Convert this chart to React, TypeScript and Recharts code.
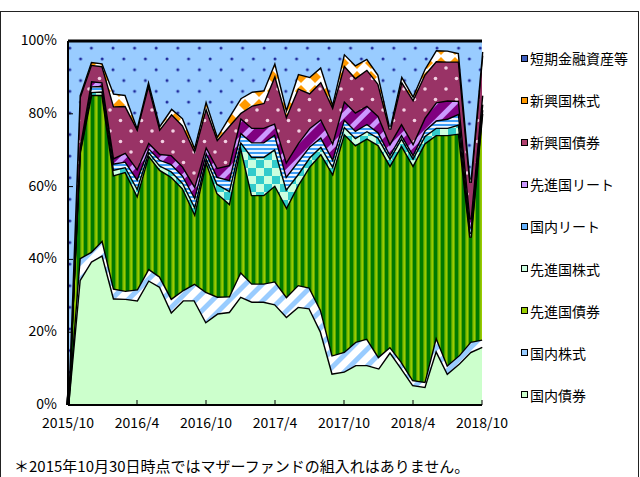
import React from 'react';
import { AreaChart, Area, XAxis, YAxis, Legend } from 'recharts';

const FONT = '"Noto Sans CJK JP", "Noto Sans", sans-serif';

const months = [
  '2015/10', '2015/11', '2015/12', '2016/1', '2016/2', '2016/3', '2016/4', '2016/5', '2016/6', '2016/7',
  '2016/8', '2016/9', '2016/10', '2016/11', '2016/12', '2017/1', '2017/2', '2017/3', '2017/4', '2017/5',
  '2017/6', '2017/7', '2017/8', '2017/9', '2017/10', '2017/11', '2017/12', '2018/1', '2018/2', '2018/3',
  '2018/4', '2018/5', '2018/6', '2018/7', '2018/8', '2018/9', '2018/10',
];

const jpBond = [0, 34.3, 39.4, 41.2, 29.3, 29.2, 28.8, 34.3, 32.5, 25.6, 28.8, 28.8, 22.9, 25.2, 25.6, 29.8, 28.4, 28.4, 27.7, 24.3, 27.0, 26.6, 20.1, 8.7, 9.2, 11.0, 11.0, 10.1, 14.6, 10.1, 5.5, 5.0, 15.1, 8.7, 11.4, 14.6, 16.0];
const jpStock = [0, 6.0, 2.7, 4.1, 2.7, 2.2, 3.0, 3.2, 2.8, 3.7, 2.8, 4.6, 8.2, 4.6, 4.3, 6.8, 5.0, 5.0, 6.3, 5.5, 6.0, 5.7, 6.0, 5.0, 5.4, 6.4, 7.3, 3.2, 1.4, 1.8, 1.4, 1.4, 3.7, 2.3, 2.3, 2.8, 2.0];
const dvBond = [0, 28.8, 43.1, 39.9, 31.2, 32.7, 25.9, 31.2, 29.3, 33.4, 27.9, 19.3, 36.0, 28.4, 25.5, 34.8, 24.3, 24.3, 26.4, 24.6, 27.5, 33.3, 43.0, 50.0, 60.0, 54.0, 55.0, 58.1, 49.9, 59.5, 59.0, 65.5, 55.4, 63.2, 60.9, 28.6, 62.0];
const dvStock = [0, 0.5, 0.8, 1.0, 1.5, 1.3, 2.0, 1.0, 1.2, 1.5, 1.5, 2.0, 1.0, 2.5, 3.5, 1.0, 10.5, 10.5, 10.0, 5.0, 3.0, 2.5, 2.0, 2.0, 2.0, 2.0, 2.0, 2.0, 2.0, 2.0, 2.0, 2.0, 2.0, 2.0, 2.5, 1.0, 1.0];
const jpReit = [0, 0.5, 1.6, 1.5, 1.7, 1.5, 2.5, 1.0, 1.6, 2.0, 2.0, 2.5, 1.5, 2.0, 3.0, 2.5, 4.0, 4.0, 4.0, 3.5, 3.5, 3.0, 2.5, 2.0, 2.0, 2.0, 2.0, 1.5, 1.0, 1.0, 1.0, 1.5, 2.0, 2.5, 3.0, 1.5, 1.5];
const dvReit = [0, 0.5, 1.4, 1.0, 1.5, 2.5, 2.8, 1.5, 1.6, 2.5, 2.5, 3.0, 1.5, 2.5, 4.0, 4.0, 4.0, 4.0, 3.0, 4.0, 5.0, 5.0, 5.0, 4.5, 5.0, 5.0, 5.0, 4.5, 3.0, 3.0, 3.0, 3.5, 5.0, 5.0, 3.5, 2.5, 2.5];
const emBond = [0, 13.9, 4.5, 4.4, 14.2, 12.8, 11.0, 16.1, 6.9, 11.3, 11.3, 9.8, 10.7, 7.8, 10.8, 1.4, 6.1, 6.8, 13.3, 12.6, 15.0, 9.6, 10.3, 9.8, 9.8, 9.5, 9.9, 8.8, 3.8, 11.6, 12.1, 11.9, 11.3, 10.7, 10.8, 10.0, 11.0];
const emStock = [0, 0.5, 0.8, 0.8, 3.5, 3.0, 0.5, 1.0, 1.0, 1.5, 2.0, 1.0, 2.0, 1.0, 2.5, 4.0, 3.8, 3.5, 3.6, 2.0, 4.0, 4.5, 4.0, 1.0, 3.2, 3.5, 3.0, 2.5, 0.8, 1.5, 1.0, 1.5, 3.0, 3.0, 2.3, 1.0, 1.0];
const cash = [100, 15.0, 5.7, 6.1, 14.4, 14.8, 23.5, 10.7, 23.1, 18.5, 21.2, 29.0, 16.2, 26.0, 20.8, 15.7, 13.9, 13.5, 5.7, 18.5, 9.0, 9.8, 7.1, 17.0, 3.4, 6.6, 4.8, 9.3, 23.5, 9.5, 15.0, 7.7, 2.5, 2.6, 3.3, 38.0, 3.0];

const yTicks = [0, 20, 40, 60, 80, 100];

const series = [
  { key: 'jpBond', name: '国内債券', values: jpBond, fill: '#CCFFCC', icon: '#CCFFCC' },
  { key: 'jpStock', name: '国内株式', values: jpStock, fill: 'url(#pJpStock)', icon: '#99CCFF' },
  { key: 'dvBond', name: '先進国債券', values: dvBond, fill: 'url(#pDvBond)', icon: '#99CC00' },
  { key: 'dvStock', name: '先進国株式', values: dvStock, fill: 'url(#pDvStock)', icon: '#CCFFE0' },
  { key: 'jpReit', name: '国内リート', values: jpReit, fill: 'url(#pJpReit)', icon: '#66B3FF' },
  { key: 'dvReit', name: '先進国リート', values: dvReit, fill: 'url(#pDvReit)', icon: '#CC99FF' },
  { key: 'emBond', name: '新興国債券', values: emBond, fill: 'url(#pEmBond)', icon: '#B0406E' },
  { key: 'emStock', name: '新興国株式', values: emStock, fill: 'url(#pEmStock)', icon: '#FF9900' },
  { key: 'cash', name: '短期金融資産等', values: cash, fill: 'url(#pCash)', icon: '#3F5FBF' },
];

const data = months.map((m, i) => {
  const row: Record<string, any> = { month: m };
  series.forEach((s) => {
    row[s.key] = s.values[i];
  });
  return row;
});

const XTick = (props: any) => {
  const { x, y, payload } = props;
  return (
    <g>
      <line x1={x} x2={x} y1={y} y2={y - 5} stroke="#000" strokeWidth={1} />
      <text x={x} y={y + 23} textAnchor="middle" fontSize={14} fill="#000" fontFamily={FONT}>
        {payload.value}
      </text>
    </g>
  );
};

const YTick = (props: any) => {
  const { x, y, payload } = props;
  return (
    <g>
      <line x1={x} x2={x + 5} y1={y} y2={y} stroke="#000" strokeWidth={1} />
      <text x={x - 11} y={y + 4} textAnchor="end" fontSize={14} fill="#000" fontFamily={FONT}>
        {payload.value}%
      </text>
    </g>
  );
};

const renderLegend = () => {
  const items = series.slice().reverse();
  return (
    <div style={{ fontFamily: FONT, fontSize: 14, color: '#000' }}>
      {items.map((s) => (
        <div key={s.key} style={{ height: 42.1, display: 'flex', alignItems: 'center' }}>
          <span
            style={{
              display: 'inline-block',
              width: 5,
              height: 5,
              border: '1.5px solid #000',
              background: s.icon,
              marginRight: 2,
            }}
          />
          <span style={{ whiteSpace: 'nowrap' }}>{s.name}</span>
        </div>
      ))}
    </div>
  );
};

export default function App() {
  return (
    <div style={{ position: 'absolute', left: 0, top: 0, width: 640, height: 477, overflow: 'hidden', background: '#fff' }}>
      <div style={{ position: 'absolute', left: 0, top: 11, width: 637, height: 480, border: '1.5px solid #222' }} />
      <AreaChart
        width={640}
        height={477}
        data={data}
        margin={{ top: 41, right: 158, bottom: 42, left: 8 }}
        style={{ position: 'absolute', left: 0, top: 0 }}
      >
        <defs>
          <pattern id="pJpStock" width="12" height="12" patternUnits="userSpaceOnUse" patternTransform="rotate(45)">
            <rect width="12" height="12" fill="#FFFFFF" />
            <rect width="5" height="12" fill="#99CCFF" />
          </pattern>
          <pattern id="pDvBond" width="7" height="10" patternUnits="userSpaceOnUse">
            <rect width="7" height="10" fill="#99CC00" />
            <rect x="0" width="3.5" height="10" fill="#007A00" />
            <rect x="3.5" width="0.8" height="10" fill="#4FA000" />
            <rect x="6.2" width="0.8" height="10" fill="#4FA000" />
          </pattern>
          <pattern id="pDvStock" width="16" height="16" patternUnits="userSpaceOnUse">
            <rect width="16" height="16" fill="#CCFFE0" />
            <rect width="8" height="8" fill="#33CCCC" />
            <rect x="8" y="8" width="8" height="8" fill="#33CCCC" />
          </pattern>
          <pattern id="pJpReit" width="10" height="4" patternUnits="userSpaceOnUse">
            <rect width="10" height="4" fill="#EAF4FF" />
            <rect width="10" height="2" fill="#3D9CF5" />
          </pattern>
          <pattern id="pDvReit" width="14" height="14" patternUnits="userSpaceOnUse" patternTransform="rotate(45)">
            <rect width="14" height="14" fill="#800080" />
            <rect width="5" height="14" fill="#CC99FF" />
          </pattern>
          <pattern id="pEmBond" width="21" height="21" patternUnits="userSpaceOnUse">
            <rect width="21" height="21" fill="#993366" />
            <circle cx="5" cy="5" r="1.8" fill="#F2D0E2" />
            <circle cx="15.5" cy="15.5" r="1.8" fill="#F2D0E2" />
          </pattern>
          <pattern id="pEmStock" width="14" height="14" patternUnits="userSpaceOnUse">
            <rect width="14" height="14" fill="#FFFFFF" />
            <polygon points="7,1 13,7 7,13 1,7" fill="#FF9900" />
          </pattern>
          <pattern id="pCash" width="21.6" height="21.6" patternUnits="userSpaceOnUse">
            <rect width="21.6" height="21.6" fill="#99CCFF" />
            <circle cx="5" cy="5" r="1.5" fill="#1F2A9C" />
            <circle cx="15.8" cy="15.8" r="1.5" fill="#1F2A9C" />
          </pattern>
        </defs>
        <XAxis
          dataKey="month"
          interval={5}
          height={30}
          tickSize={0}
          tickMargin={0}
          tickLine={false}
          tick={<XTick />}
          axisLine={{ stroke: '#000', strokeWidth: 2 }}
        />
        <XAxis
          xAxisId="top"
          dataKey="month"
          orientation="top"
          height={0}
          tick={false}
          tickLine={false}
          axisLine={{ stroke: '#000', strokeWidth: 2 }}
        />
        <YAxis
          domain={[0, 100]}
          ticks={yTicks}
          width={60}
          tickSize={0}
          tickMargin={0}
          tickLine={false}
          tick={<YTick />}
          axisLine={{ stroke: '#000', strokeWidth: 2 }}
        />
        <YAxis
          yAxisId="right"
          orientation="right"
          domain={[0, 100]}
          width={0}
          tick={false}
          tickLine={false}
          axisLine={{ stroke: '#000', strokeWidth: 2 }}
        />
        {series.map((s) => (
          <Area
            key={s.key}
            type="linear"
            dataKey={s.key}
            name={s.name}
            stackId="1"
            stroke="#000"
            strokeWidth={2.8}
            fill={s.fill}
            fillOpacity={1}
            isAnimationActive={false}
            dot={false}
            activeDot={false}
          />
        ))}
        <Legend
          layout="vertical"
          align="center"
          verticalAlign="middle"
          wrapperStyle={{ position: 'absolute', left: 521, top: 37, width: 119, height: 380 }}
          content={renderLegend}
        />
      </AreaChart>
      <div
        style={{
          position: 'absolute',
          left: 14,
          top: 455,
          fontFamily: FONT,
          fontSize: 15,
          color: '#000',
          whiteSpace: 'nowrap',
        }}
      >
        ＊2015年10月30日時点ではマザーファンドの組入れはありません。
      </div>
    </div>
  );
}
